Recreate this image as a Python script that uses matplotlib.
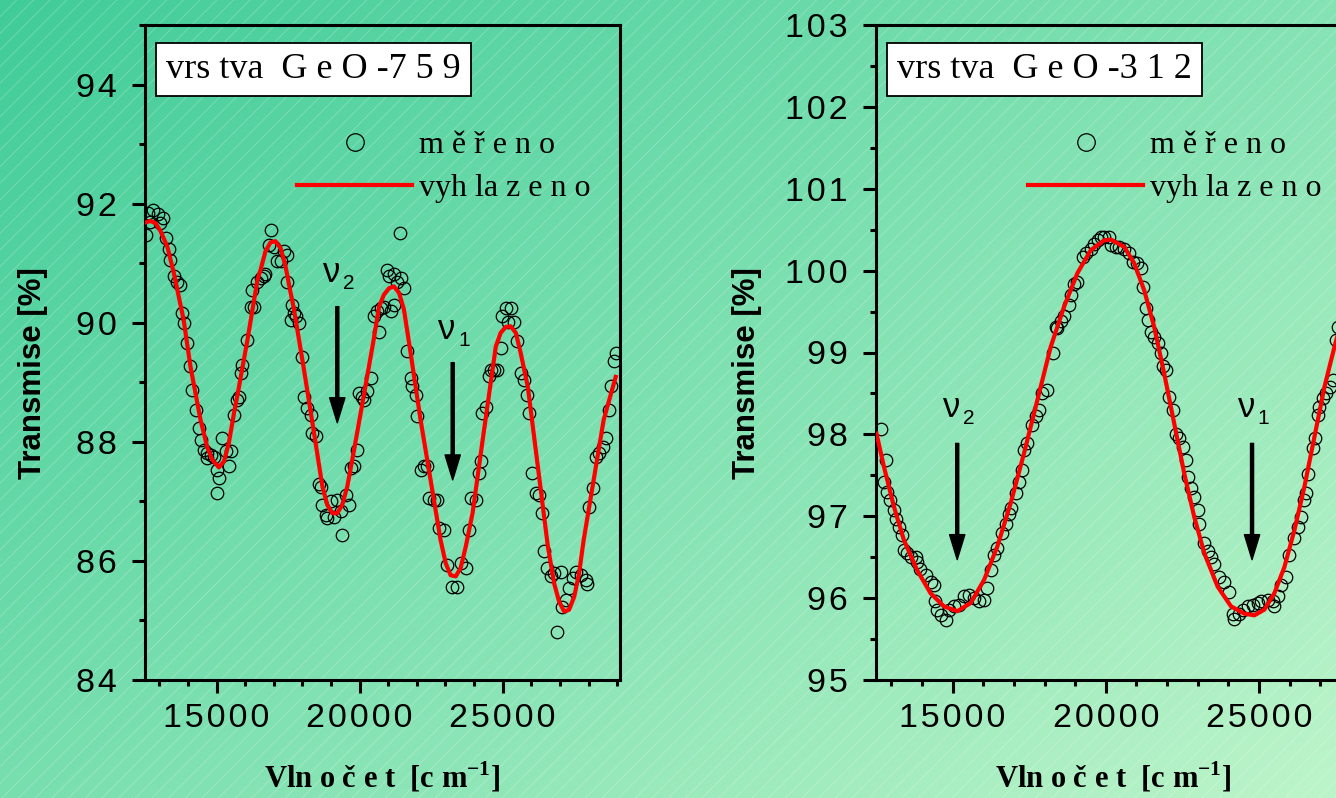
import numpy as np
import matplotlib
matplotlib.use('Agg')
import matplotlib.pyplot as plt
from matplotlib.patches import Rectangle
from matplotlib.ticker import MultipleLocator, FuncFormatter

plt.rcParams['font.family'] = ['Liberation Sans', 'DejaVu Sans']

# ---- data: GeO-759 (left) ----
x759_meas = [12600, 12790, 12950, 13140, 12690, 13040, 12520, 13220, 13330, 13390, 13510, 13620, 13740,
             13800, 13860, 13970, 14090, 14150, 14270, 14380, 14440, 14560, 14670, 14790, 14910, 14670,
             15020, 15080, 15000, 15200, 15320, 15490, 15430, 15610, 15720, 15780, 15840, 15900, 16070,
             16190, 16310, 16250, 16420, 16540, 16660, 16710, 16890, 16830, 17000, 17120, 17240, 17350,
             17470, 17470, 17650, 17700, 17760, 17590, 17880, 18000, 18050, 18170, 18290, 18350, 18460,
             18580, 18640, 18700, 18810, 18870, 18990, 19100, 19220, 19340, 19390, 19510, 19630, 19690,
             19800, 19920, 19980, 20090, 20150, 20270, 20390, 20500, 20620, 20680, 20740, 20850, 20970,
             21030, 21090, 21200, 21320, 21430, 21550, 21200, 21410, 21670, 21780, 21840, 21960, 22020,
             22130, 22250, 22370, 22430, 22600, 22720, 22780, 22950, 23070, 23240, 23420, 23530, 23710,
             23820, 23880, 24060, 24170, 24230, 24290, 24410, 24520, 24580, 24700, 24810, 24930, 24990,
             25110, 25280, 25170, 25400, 25510, 25630, 25750, 25860, 25920, 26040, 26160, 26270, 26390,
             26450, 26560, 26680, 26800, 27030, 27090, 27210, 27320, 27440, 27550, 27730, 27900, 27960,
             26910, 28020, 28140, 28250, 28370, 28490, 28600, 28720, 28780, 28900, 28950]
t759_meas = [91.85, 91.89, 91.82, 91.76, 91.70, 91.67, 91.48, 91.42, 91.23, 91.06, 90.78, 90.69, 90.64,
             90.16, 89.99, 89.66, 89.27, 88.87, 88.54, 88.23, 88.03, 87.87, 87.81, 87.78, 87.75, 87.73,
             87.53, 87.39, 87.14, 88.06, 87.84, 87.84, 87.59, 88.45, 88.70, 88.76, 89.15, 89.29, 89.71,
             90.27, 90.27, 90.55, 90.69, 90.75, 90.78, 90.81, 91.56, 91.31, 91.28, 91.03, 91.03, 91.20,
             91.14, 90.69, 90.30, 90.16, 90.11, 90.05, 89.99, 89.43, 88.76, 88.57, 88.45, 88.15, 88.09,
             87.30, 87.24, 86.94, 86.77, 86.72, 87.00, 86.74, 87.03, 86.83, 86.44, 87.11, 86.94, 87.56,
             87.59, 87.87, 88.82, 88.76, 88.70, 88.85, 89.07, 90.11, 90.19, 89.85, 90.25, 90.27, 90.89,
             90.78, 90.19, 90.81, 90.69, 90.75, 90.58, 90.30, 91.51, 89.52, 89.07, 88.93, 88.79, 88.43,
             87.53, 87.59, 87.59, 87.05, 87.03, 87.03, 86.55, 86.52, 85.93, 85.57, 85.57, 85.96, 85.88,
             86.52, 87.05, 87.03, 87.47, 87.67, 88.48, 88.59, 89.10, 89.21, 89.21, 89.21, 89.57, 90.11,
             90.25, 90.25, 90.02, 90.02, 89.69, 89.15, 89.04, 88.79, 88.48, 87.47, 87.14, 87.11, 86.80,
             86.16, 85.88, 85.74, 85.79, 85.82, 85.23, 85.34, 85.54, 85.71, 85.82, 85.76, 85.68, 85.62,
             84.81, 86.91, 87.22, 87.75, 87.81, 87.92, 88.06, 88.54, 88.93, 89.35, 89.49]
x759_fit = [12500, 12690, 12870, 13040, 13280, 13510, 13850, 14090, 14440, 14670, 14850, 15080, 15260,
            15430, 15610, 15730, 16080, 16430, 16540, 16710, 16890, 17060, 17240, 17410, 17590, 17690,
            18040, 18390, 18700, 18870, 19050, 19220, 19390, 19570, 19790, 20140, 20490, 20680, 20850,
            21030, 21200, 21380, 21550, 21780, 22130, 22480, 22830, 23010, 23180, 23360, 23530, 23710,
            23950, 24300, 24760, 24930, 25110, 25280, 25460, 25630, 25880, 26230, 26580, 26800, 26970,
            27150, 27320, 27500, 27670, 27830, 28180, 28530, 28950]
t759_fit = [91.68, 91.71, 91.67, 91.54, 91.28, 90.83, 90.05, 89.26, 88.37, 87.92, 87.70, 87.57, 87.67,
            87.98, 88.48, 88.78, 89.71, 90.72, 90.89, 91.20, 91.35, 91.37, 91.25, 90.95, 90.50, 90.27,
            89.26, 88.20, 87.25, 86.94, 86.80, 86.80, 86.94, 87.25, 87.82, 88.76, 89.71, 90.27, 90.47,
            90.58, 90.61, 90.50, 90.22, 89.50, 88.37, 87.36, 86.35, 85.96, 85.76, 85.74, 85.88, 86.24,
            86.81, 88.03, 89.60, 89.83, 89.93, 89.94, 89.83, 89.49, 88.92, 87.58, 86.24, 85.62, 85.32,
            85.15, 85.18, 85.40, 85.79, 86.35, 87.36, 88.37, 89.09]

# ---- data: GeO-312 (right) ----
x312_meas = [12650, 12810, 12760, 12870, 12970, 13080, 13140, 13250, 13360, 13410, 13520, 13630, 13790,
             13850, 13950, 14120, 14280, 14390, 14440, 14500, 14610, 14770, 14880, 15040, 15210, 15370,
             15530, 15700, 15860, 16020, 16130, 16240, 16350, 16460, 16620, 16730, 16840, 16900, 17060,
             17170, 17280, 17330, 17440, 17600, 17710, 17820, 17930, 18090, 18260, 18370, 18420, 18530,
             18640, 18800, 18860, 18970, 19070, 19240, 19350, 19510, 19620, 19730, 19840, 19950, 20110,
             20160, 20330, 20440, 20600, 20760, 20870, 21030, 21140, 21200, 21310, 21360, 21470, 21580,
             21690, 21800, 21850, 21960, 22070, 22180, 22290, 22400, 22510, 22610, 22670, 22780, 22890,
             23000, 23050, 23210, 23320, 23430, 23540, 23700, 23870, 24030, 24140, 24190, 24360, 24470,
             24630, 24790, 24960, 25070, 25280, 25450, 25500, 25610, 25720, 25880, 25990, 26150, 26260,
             26370, 26480, 26540, 26590, 26750, 26810, 26920, 26970, 27080, 27190, 27300, 27410, 27520,
             27570]
t312_meas = [98.07, 97.69, 97.42, 97.30, 97.20, 97.08, 96.97, 96.87, 96.77, 96.59, 96.55, 96.50, 96.50,
             96.44, 96.36, 96.28, 96.20, 96.16, 95.96, 95.86, 95.79, 95.73, 95.86, 95.90, 95.92, 96.02,
             96.04, 96.00, 95.96, 95.98, 96.12, 96.34, 96.53, 96.61, 96.79, 96.91, 97.03, 97.10, 97.28,
             97.42, 97.56, 97.81, 97.89, 98.11, 98.22, 98.30, 98.50, 98.54, 98.99, 99.31, 99.30, 99.38,
             99.44, 99.58, 99.70, 99.84, 99.86, 100.17, 100.21, 100.27, 100.33, 100.37, 100.41, 100.41, 100.41,
             100.31, 100.29, 100.29, 100.27, 100.21, 100.11, 100.09, 100.03, 99.80, 99.54, 99.40, 99.25, 99.19,
             99.11, 98.99, 98.83, 98.79, 98.46, 98.30, 98.01, 97.95, 97.85, 97.69, 97.48, 97.34, 97.24,
             97.08, 96.91, 96.67, 96.57, 96.50, 96.42, 96.26, 96.20, 96.08, 95.81, 95.75, 95.81, 95.86,
             95.90, 95.92, 95.94, 95.96, 95.98, 95.96, 95.90, 96.02, 96.16, 96.26, 96.53, 96.73, 96.87,
             96.99, 97.20, 97.28, 97.52, 97.83, 97.95, 98.24, 98.34, 98.44, 98.50, 98.58, 98.66, 99.15,
             99.31]
x312_fit = [12516, 12756, 13083, 13410, 13845, 14280, 14716, 15152, 15588, 16024, 16459, 16895, 17331,
            17767, 18202, 18638, 19074, 19509, 19945, 20159, 20599, 20926, 21252, 21579, 21906, 22233,
            22560, 22886, 23213, 23649, 24084, 24520, 24847, 25173, 25500, 25827, 26154, 26480, 26807,
            27134, 27461, 27548, 27900]
t312_fit = [98.01, 97.61, 97.12, 96.71, 96.34, 96.06, 95.90, 95.84, 95.94, 96.22, 96.63, 97.16, 97.77,
            98.42, 99.07, 99.56, 99.97, 100.25, 100.37, 100.38, 100.29, 100.09, 99.76, 99.31, 98.74, 98.13,
            97.52, 96.99, 96.55, 96.14, 95.90, 95.81, 95.79, 95.86, 96.06, 96.38, 96.83, 97.36, 97.97,
            98.58, 99.07, 99.19, 99.75]

W, H = 1336, 798
fig = plt.figure(figsize=(W / 100, H / 100), dpi=100)

# background: diagonal green gradient with faint white hatching
bg = fig.add_axes([0, 0, 1, 1], zorder=-10)
u = np.linspace(0, 1, 400)
v = np.linspace(0, 1, 240)
U, V = np.meshgrid(u, v)
g = (0.55 * U + 0.45 * V)[..., None]
c0 = np.array([0.25, 0.80, 0.60])
c1 = np.array([0.74, 0.96, 0.79])
bg.imshow(c0 + (c1 - c0) * g, extent=[0, 1, 0, 1], aspect='auto', origin='upper')
plt.rcParams['hatch.linewidth'] = 0.5
bg.add_patch(Rectangle((0, 0), 1, 1, transform=bg.transAxes, fill=False, hatch='//',
                       edgecolor=(1, 1, 1, 0.3), lw=0))
bg.set_xlim(0, 1)
bg.set_ylim(0, 1)
bg.axis('off')


def spaced(val, pos):
    return '\u200a'.join(str(int(round(val))))


def panel(rect, xm, tm, xf, tf, xlim, ylim, ymaj, ymin, title, arrows):
    ax = fig.add_axes(rect)
    ax.set_facecolor('none')
    ax.plot(xm, tm, 'o', ms=9, mfc='none', mec='black', mew=0.9, label='m ě ř e n o', zorder=2)
    ax.plot(xf, tf, '-', color='#ff0000', lw=3, label='vyh la z e n o', zorder=3)
    ax.set_xlim(*xlim)
    ax.set_ylim(*ylim)
    ax.xaxis.set_major_locator(MultipleLocator(5000))
    ax.xaxis.set_minor_locator(MultipleLocator(1000))
    ax.yaxis.set_major_locator(MultipleLocator(ymaj))
    ax.yaxis.set_minor_locator(MultipleLocator(ymin))
    ax.xaxis.set_major_formatter(FuncFormatter(spaced))
    ax.yaxis.set_major_formatter(FuncFormatter(spaced))
    for s in ax.spines.values():
        s.set_linewidth(2.2)
    ax.tick_params(which='major', direction='out', length=9.5, width=2.2, labelsize=24.5, pad=7)
    ax.tick_params(which='minor', direction='out', length=4.5, width=2.2)
    ax.tick_params(axis='y', which='major', pad=11)
    ax.set_ylabel('Transmise [%]', fontsize=22.5, fontweight='bold')
    ax.set_xlabel('Vln o č e t  [c m$^{\\mathregular{-1}}$]', fontsize=22, fontweight='bold',
                  family='Liberation Serif')
    ax.text(0.044, 0.932, title, transform=ax.transAxes, family='Liberation Serif', fontsize=26,
            va='center', ha='left',
            bbox=dict(boxstyle='square,pad=0.28', fc='white', ec='black', lw=1.3))
    ax.legend(loc='upper left', bbox_to_anchor=(0.32, 0.838), frameon=False, numpoints=1,
              handlelength=3.6, handletextpad=0.22, labelspacing=0.42, borderaxespad=0,
              borderpad=0, prop=dict(family='Liberation Serif', size=23), markerscale=1.4)
    for (lab, sub, xa, y0, y1, yl) in arrows:
        ax.annotate('', xy=(xa, y1), xytext=(xa, y0),
                    arrowprops=dict(facecolor='black', edgecolor='black', width=2.2,
                                    headwidth=11, headlength=18, shrink=0))
        ax.annotate(lab, xy=(xa, yl), xytext=(-4, 0), textcoords='offset points',
                    fontsize=25, ha='center', va='center')
        ax.annotate(sub, xy=(xa, yl), xytext=(8, -8), textcoords='offset points',
                    fontsize=15, ha='center', va='center')
    return ax


axL = panel([145 / W, 118 / H, 475 / W, 655 / H], x759_meas, t759_meas, x759_fit, t759_fit,
            (12500, 29100), (84, 95), 2, 1, 'vrs tva  G e O -7 5 9',
            [('ν', '2', 19220, 90.27, 88.32, 90.84), ('ν', '1', 23253, 89.33, 87.36, 89.88)])
axL.yaxis.set_label_coords(-0.205, 0.469)
axL.xaxis.set_label_coords(0.5, -0.122)

axR = panel([876 / W, 118 / H, 475 / W, 655 / H], x312_meas, t312_meas, x312_fit, t312_fit,
            (12500, 28000), (95, 103), 1, 0.5, 'vrs tva  G e O -3 1 2',
            [('ν', '2', 15150, 97.89, 96.47, 98.33), ('ν', '1', 24771, 97.89, 96.47, 98.33)])
axR.yaxis.set_label_coords(-0.24, 0.469)
axR.xaxis.set_label_coords(0.5, -0.122)

fig.savefig('out.png', dpi=100)
